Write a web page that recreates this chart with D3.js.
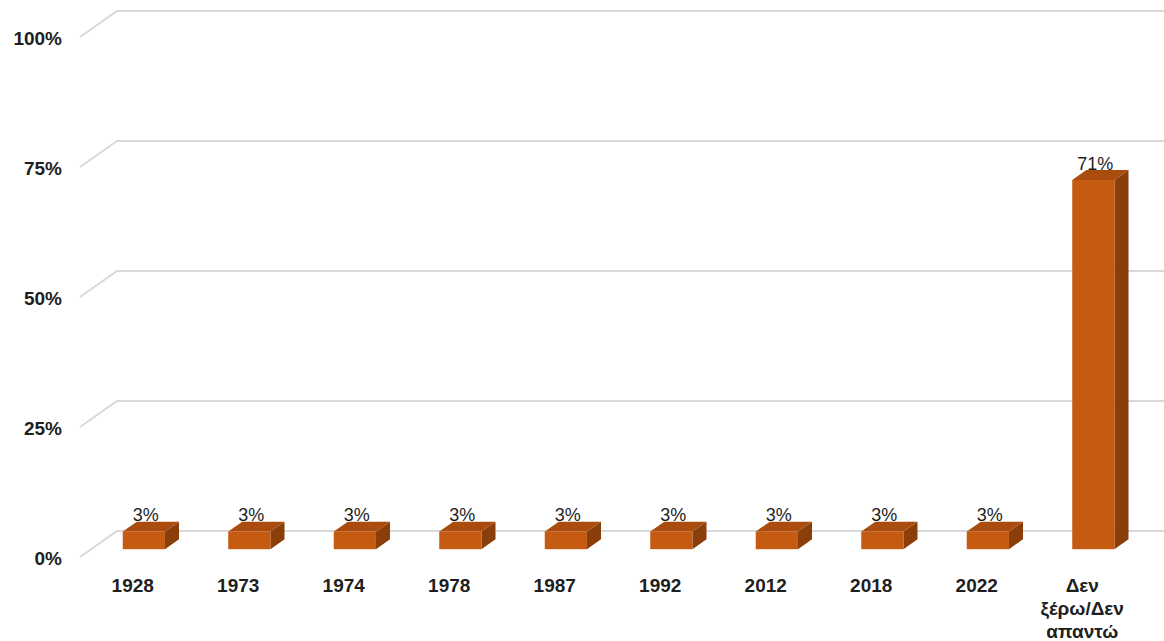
<!DOCTYPE html>
<html><head><meta charset="utf-8">
<script src="https://cdn.jsdelivr.net/npm/d3@7"></script>
<style>html,body{margin:0;padding:0;background:#fff;}svg{display:block;}</style>
</head><body><svg id="chart" width="1164" height="641"></svg>
<script>
const categories = ["1928","1973","1974","1978","1987","1992","2012","2018","2022","Δεν ξέρω/Δεν απαντώ"];
const values = [0.034,0.034,0.034,0.034,0.034,0.034,0.034,0.034,0.034,0.71];
const valueLabels = ["3%","3%","3%","3%","3%","3%","3%","3%","3%","71%"];
const yTicks = [0,0.25,0.5,0.75,1];
const yTickLabels = ["0%","25%","50%","75%","100%"];

const svg = d3.select("#chart");
const W = 1164;
const depth = {dx:37, dy:-26};
const x = d3.scaleBand().domain(categories).range([80,1135]);
const y = d3.scaleLinear().domain([0,1]).range([557,37]);

// gridlines (3D floor/back wall)
svg.append("g").selectAll("path").data(yTicks).join("path")
  .attr("d", t => `M80,${y(t)} L${80+depth.dx},${y(t)+depth.dy} L${W},${y(t)+depth.dy}`)
  .attr("fill","none").attr("stroke","#d9d9d9").attr("stroke-width",2);

// y labels
svg.append("g").selectAll("text").data(yTicks).join("text")
  .attr("x",62).attr("y",t=>y(t)+8).attr("text-anchor","end")
  .attr("font-family","Liberation Sans, Arial, sans-serif").attr("font-weight","bold")
  .attr("font-size",19).attr("fill","#1e1e1e")
  .text((t,i)=>yTickLabels[i]);

// bars
const f0 = 0.3, f1 = 0.68;
const bw = x.bandwidth()*0.4;
const bars = svg.append("g").selectAll("g").data(categories).join("g");
const fx = d => x(d) + x.bandwidth()/2 + depth.dx*f0 - bw/2;
const fyB = () => y(0) + depth.dy*f0;
const fyT = (d,i) => y(values[i]) + depth.dy*f0;
const ddx = depth.dx*(f1-f0), ddy = depth.dy*(f1-f0);

bars.append("path").attr("fill","#8a3f0b")
  .attr("d",(d,i)=>{const xr=fx(d)+bw;return `M${xr},${fyB()} L${xr+ddx},${fyB()+ddy} L${xr+ddx},${fyT(d,i)+ddy} L${xr},${fyT(d,i)} Z`;});
bars.append("path").attr("fill","#a94c0e")
  .attr("d",(d,i)=>{const xl=fx(d),yt=fyT(d,i);return `M${xl},${yt} L${xl+ddx},${yt+ddy} L${xl+bw+ddx},${yt+ddy} L${xl+bw},${yt} Z`;});
bars.append("rect").attr("fill","#c55a11")
  .attr("x",d=>fx(d)).attr("y",(d,i)=>fyT(d,i)).attr("width",bw)
  .attr("height",(d,i)=>fyB()-fyT(d,i));

// value labels
bars.append("text")
  .attr("x",d=>fx(d)+bw/2+2).attr("y",(d,i)=>fyT(d,i)+ddy-0.5)
  .attr("text-anchor","middle").attr("font-family","Liberation Sans, Arial, sans-serif")
  .attr("font-size",18).attr("fill","#1e1e1e")
  .text((d,i)=>valueLabels[i]);

// category labels
const cl = svg.append("g").selectAll("text").data(categories).join("text")
  .attr("x",d=>x(d)+x.bandwidth()/2).attr("y",592).attr("text-anchor","middle")
  .attr("font-family","Liberation Sans, Arial, sans-serif").attr("font-weight","bold")
  .attr("font-size",19).attr("fill","#1e1e1e");
cl.each(function(d){
  const words = d.split(" ");
  const t = d3.select(this);
  words.forEach((w,i)=>t.append("tspan").attr("x",x(d)+x.bandwidth()/2).attr("dy",i?23:0).text(w));
});
</script></body></html>
